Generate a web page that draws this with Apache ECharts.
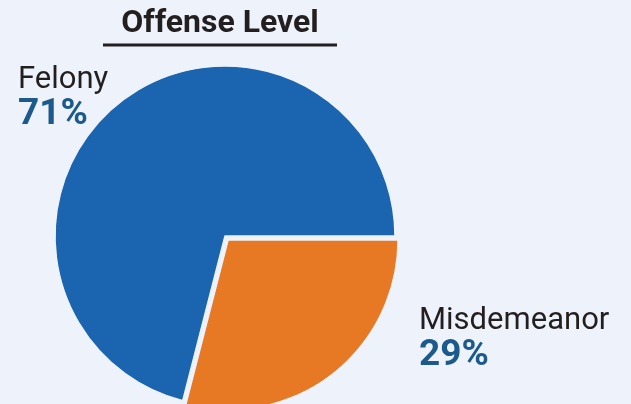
<!DOCTYPE html>
<html>
<head>
<meta charset="utf-8">
<script src="https://cdn.jsdelivr.net/npm/echarts@6/dist/echarts.min.js"></script>
<style>
  html, body { margin: 0; padding: 0; background: #eef3fb; }
  #chart { width: 631px; height: 404px; }
</style>
</head>
<body>
<div id="chart"></div>
<script>
// Offense level breakdown (percent of cases)
const categories = ['Misdemeanor', 'Felony'];
const shares = [29, 71];
const sliceColors = ['#e87924', '#1a64b0'];
const titleText = 'Offense Level';

const BG = '#eef3fb';
const INK = '#231f20';

// Where each category's two-line label sits (top-left corner)
const labelSpots = {
  Felony: { x: 18, y: 65 },
  Misdemeanor: { x: 419, y: 306 }
};

const chart = echarts.init(document.getElementById('chart'), null, { renderer: 'canvas' });

// Two-line callouts: category name over its bold percentage
const callouts = categories.map((name, i) => ({
  type: 'text',
  left: labelSpots[name].x,
  top: labelSpots[name].y,
  style: {
    text: '{name|' + name + '}\n{pct|' + shares[i] + '%}',
    rich: {
      name: {
        fontFamily: 'Roboto',
        fontSize: 31,
        fill: INK,
        lineHeight: 34
      },
      pct: {
        fontFamily: 'Roboto',
        fontWeight: 'bold',
        fontSize: 37,
        fill: '#1b5a8b',
        lineHeight: 35
      }
    }
  }
}));

chart.setOption({
  backgroundColor: BG,
  animation: false,
  graphic: [
    {
      // underlined heading
      type: 'text',
      x: 220,
      y: 24,
      style: {
        text: titleText,
        fontFamily: 'Roboto',
        fontWeight: 'bold',
        fontSize: 32,
        fill: INK,
        align: 'center',
        verticalAlign: 'middle'
      }
    },
    {
      type: 'line',
      shape: { x1: 103, y1: 45, x2: 337, y2: 45 },
      style: { stroke: INK, lineWidth: 3 }
    }
  ].concat(callouts),
  series: [{
    type: 'pie',
    center: [225, 236],
    radius: 170,
    startAngle: 0,
    clockwise: true,
    selectedMode: 'single',
    selectedOffset: 5,
    emphasis: { disabled: true },
    itemStyle: { borderColor: BG, borderWidth: 1.5 },
    labelLine: { show: false },
    label: { show: false },
    data: categories.map((name, i) => ({
      name: name,
      value: shares[i],
      selected: name === 'Misdemeanor',
      itemStyle: { color: sliceColors[i] }
    }))
  }]
});
</script>
</body>
</html>
